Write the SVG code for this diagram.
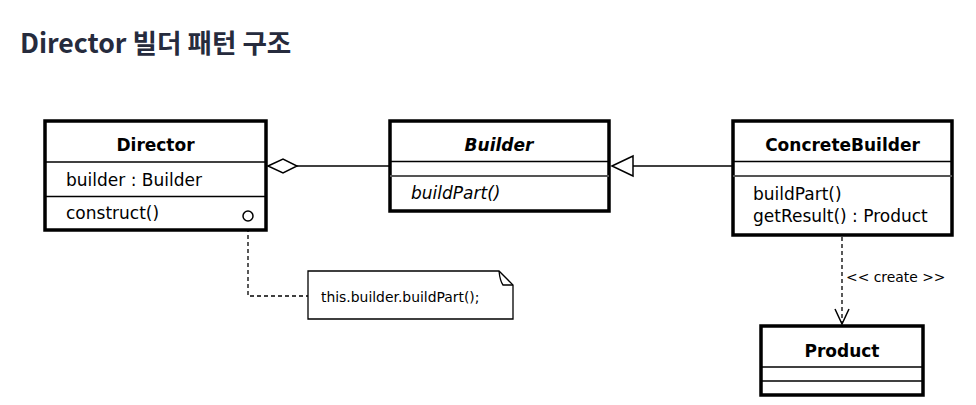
<svg xmlns="http://www.w3.org/2000/svg" width="976" height="405" viewBox="0 0 976 405">
<style>
.box{fill:#fff;stroke:#000;stroke-width:3.5}
.div{stroke:#000;stroke-width:1.5}
.div2{stroke:#555;stroke-width:2}
.t{font-family:"DejaVu Sans","Liberation Sans",sans-serif;font-size:17px;fill:#000}
.b{font-weight:bold;font-size:17px}
.i{font-style:italic}
.sm{font-family:"DejaVu Sans","Liberation Sans",sans-serif;font-size:13.9px;fill:#000}
.ln{stroke:#000;stroke-width:1.5;fill:none}
.dash{stroke:#000;stroke-width:1.3;fill:none;stroke-dasharray:4 3}
</style>
<rect width="976" height="405" fill="#fff"/>
<text x="20" y="53" font-family="'Noto Sans CJK KR','Noto Sans',sans-serif" font-weight="bold" font-size="26.6" fill="#262b3d">Director 빌더 패턴 구조</text>

<g id="connectors">
  <line class="ln" x1="297" y1="166" x2="390" y2="166"/>
  <polygon points="268,166 283,159 297,166 283,173" fill="#fff" stroke="#000" stroke-width="1.5"/>
  <line class="ln" x1="633" y1="166" x2="732" y2="166"/>
  <polygon points="612,166 633,156 633,176" fill="#fff" stroke="#000" stroke-width="1.5"/>
  <polyline class="dash" points="248,221 248,296 308,296"/>
  <line class="dash" x1="842" y1="237" x2="842" y2="322"/>
  <polyline class="ln" points="835,309 842,324 849,309"/>
  <text class="sm" x="846" y="282" font-size="13.2">&lt;&lt; create &gt;&gt;</text>
</g>

<g id="director">
  <rect class="box" x="45" y="121" width="221" height="109"/>
  <line class="div" x1="45" y1="162" x2="266" y2="162"/>
  <line class="div" x1="45" y1="196.5" x2="266" y2="196.5"/>
  <text class="t b" x="155.5" y="151" text-anchor="middle">Director</text>
  <text class="t" x="66" y="186">builder : Builder</text>
  <text class="t" x="66" y="219">construct()</text>
  <circle cx="248" cy="216" r="5" fill="#fff" stroke="#000" stroke-width="1.5"/>
</g>

<g id="builder">
  <rect class="box" x="390" y="121" width="219" height="90"/>
  <line class="div" x1="390" y1="161.5" x2="609" y2="161.5"/>
  <line class="div2" x1="390" y1="176" x2="609" y2="176"/>
  <text class="t b i" x="499" y="151" text-anchor="middle">Builder</text>
  <text class="t i" x="411" y="199">buildPart()</text>
</g>

<g id="concretebuilder">
  <rect class="box" x="733" y="121" width="219" height="114"/>
  <line class="div" x1="733" y1="161.5" x2="952" y2="161.5"/>
  <line class="div2" x1="733" y1="176" x2="952" y2="176"/>
  <text class="t b" x="842.5" y="151" text-anchor="middle">ConcreteBuilder</text>
  <text class="t" x="753" y="200">buildPart()</text>
  <text class="t" x="753" y="222">getResult() : Product</text>
</g>

<g id="product">
  <rect class="box" x="761" y="326" width="162" height="69"/>
  <line class="div" x1="761" y1="367" x2="923" y2="367"/>
  <line class="div" x1="761" y1="381" x2="923" y2="381"/>
  <text class="t b" x="842" y="357" text-anchor="middle">Product</text>
</g>

<g id="note">
  <path d="M308,271 L499,271 L513,285 L513,319 L308,319 Z" fill="#fff" stroke="#000" stroke-width="1.3"/>
  <path d="M499,271 Q500,281 503,285 L513,285" fill="none" stroke="#000" stroke-width="1.3"/>
  <text class="sm" x="321" y="302">this.builder.buildPart();</text>
</g>
</svg>
